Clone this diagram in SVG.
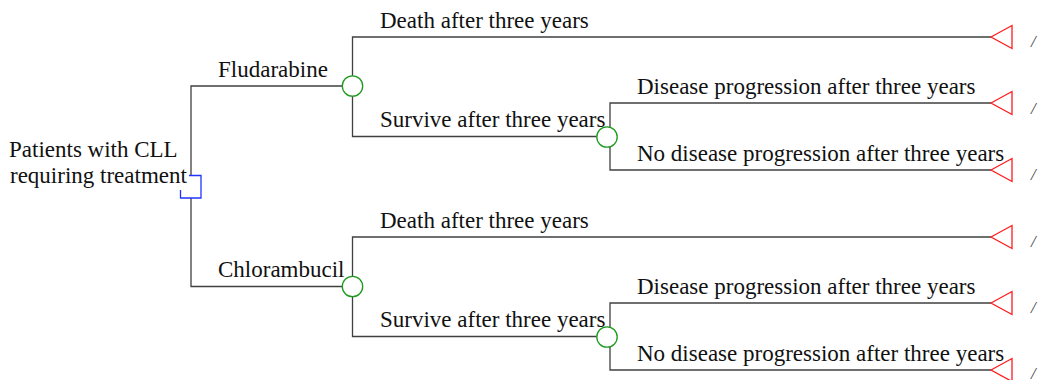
<svg xmlns="http://www.w3.org/2000/svg" width="1038" height="380" viewBox="0 0 1038 380">
<style>
.ln{fill:none;stroke:#404040;stroke-width:1.3}
.ch{fill:#fff;stroke:#1f9a1f;stroke-width:1.3}
.tm{fill:#fff;stroke:#ff1a1a;stroke-width:1.3}
.t{font-family:"Liberation Serif","Times New Roman",serif;font-size:23px;fill:#111}
.s{font-family:"Liberation Serif","Times New Roman",serif;font-size:17px;font-style:italic;fill:#444}
</style>
<rect width="1038" height="380" fill="#fff"/>
<g id="connectors">
<path class="ln" d="M191,175 V86 H342"/>
<path class="ln" d="M191,198 V286.5 H342"/>
<path class="ln" d="M352.5,76 V37 H991"/>
<path class="ln" d="M352.5,96 V136.5 H597"/>
<path class="ln" d="M610,127 V103 H991"/>
<path class="ln" d="M610,147 V170 H991"/>
<path class="ln" d="M352.5,276.5 V237 H991"/>
<path class="ln" d="M352.5,296.5 V336.5 H597"/>
<path class="ln" d="M610,327 V303 H991"/>
<path class="ln" d="M610,347 V370 H991"/>
</g>
<g id="root">
<rect x="180.5" y="175.5" width="21" height="22.5" fill="#fff"/>
<path d="M189,175.5 H201 V198 H180.5 V190" fill="none" stroke="#2233ff" stroke-width="1.3"/>
<text class="t" x="9" y="157">Patients with CLL</text>
<text class="t" x="10" y="183">requiring treatment</text>
</g>
<g id="labels-arms">
<text class="t" x="218" y="77">Fludarabine</text>
<text class="t" x="218" y="277">Chlorambucil</text>
</g>
<g id="chance-flu"><circle class="ch" cx="352.5" cy="86" r="10.2"/></g>
<g id="chance-chl"><circle class="ch" cx="352.5" cy="286.5" r="10.2"/></g>
<g id="chance-flu-surv"><circle class="ch" cx="607" cy="137" r="10.2"/></g>
<g id="chance-chl-surv"><circle class="ch" cx="607" cy="337" r="10.2"/></g>
<g id="branch-labels">
<text class="t" x="380" y="28">Death after three years</text>
<text class="t" x="380" y="127">Survive after three years</text>
<text class="t" x="637" y="94">Disease progression after three years</text>
<text class="t" x="637" y="161">No disease progression after three years</text>
<text class="t" x="380" y="228">Death after three years</text>
<text class="t" x="380" y="327">Survive after three years</text>
<text class="t" x="637" y="294">Disease progression after three years</text>
<text class="t" x="637" y="361">No disease progression after three years</text>
</g>
<g id="terminals">
<path class="tm" d="M991,37 L1012,25.5 V48.5 Z"/>
<path class="tm" d="M991,103 L1012,91.5 V114.5 Z"/>
<path class="tm" d="M991,170 L1012,158.5 V181.5 Z"/>
<path class="tm" d="M991,237 L1012,225.5 V248.5 Z"/>
<path class="tm" d="M991,303 L1012,291.5 V314.5 Z"/>
<path class="tm" d="M991,370 L1012,358.5 V381.5 Z"/>
<text class="s" x="1031" y="47">/</text>
<text class="s" x="1031" y="114">/</text>
<text class="s" x="1031" y="180">/</text>
<text class="s" x="1031" y="247">/</text>
<text class="s" x="1031" y="313">/</text>
<text class="s" x="1031" y="379">/</text>
</g>
</svg>
